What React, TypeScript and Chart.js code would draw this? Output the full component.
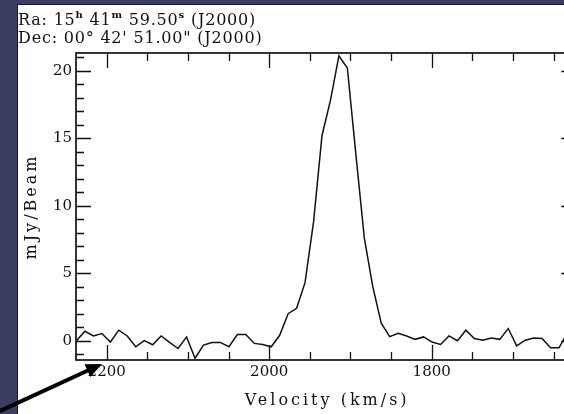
import React, { useEffect, useRef } from 'react';
import { Chart, registerables } from 'chart.js';

Chart.register(...registerables);

// ---- data ----
const velocities = [
  2237.2, 2226.8, 2216.4, 2205.9, 2195.5, 2185.1, 2174.7, 2164.3, 2153.8, 2143.4,
  2133.0, 2122.6, 2112.2, 2101.7, 2091.3, 2080.9, 2070.5, 2060.1, 2049.6, 2039.2,
  2028.8, 2018.4, 2008.0, 1997.5, 1987.1, 1976.7, 1966.3, 1955.9, 1945.4, 1935.0,
  1924.6, 1914.2, 1903.8, 1893.3, 1882.9, 1872.5, 1862.1, 1851.7, 1841.2, 1830.8,
  1820.4, 1810.0, 1799.6, 1789.1, 1778.7, 1768.3, 1757.9, 1747.5, 1737.0, 1726.6,
  1716.2, 1705.8, 1695.4, 1684.9, 1674.5, 1664.1, 1653.7, 1643.3, 1632.8, 1622.4,
];
const flux = [
  0.0, 0.7, 0.35, 0.53, -0.1, 0.78, 0.35, -0.45, 0.0, -0.3,
  0.35, -0.13, -0.58, 0.28, -1.3, -0.33, -0.13, -0.13, -0.45, 0.46,
  0.46, -0.2, -0.28, -0.45, 0.4, 2.0, 2.4, 4.3, 8.8, 15.2,
  17.8, 21.1, 20.2, 13.8, 7.6, 4.0, 1.3, 0.3, 0.55, 0.35,
  0.1, 0.28, -0.1, -0.28, 0.35, 0.0, 0.78, 0.16, 0.04, 0.2,
  0.1, 0.9, -0.38, 0.04, 0.2, 0.16, -0.53, -0.53, 0.6, 0.4,
];
const xTickValues = [2200, 2000, 1800];
const yTickValues = [0, 5, 10, 15, 20];
const xMinorStep = 50;
const yMinorStep = 1;
const xRange = [1622.0, 2237.8];
const yRange = [-1.43, 21.31];
const xTitle = 'Velocity (km/s)';
const yTitle = 'mJy/Beam';
const raRuns = [
  { t: 'Ra: 15' }, { t: 'h', sup: true }, { t: ' 41' }, { t: 'm', sup: true },
  { t: ' 59.50' }, { t: 's', sup: true }, { t: ' (J2000)' },
];
const decRuns = [{ t: 'Dec: 00° 42\' 51.00" (J2000)' }];

const FONT = '"DejaVu Serif", serif';
const BG = '#3c3d62';

const decor = {
  id: 'decor',
  beforeDraw(chart: any) {
    const { ctx, width, height } = chart;
    ctx.save();
    ctx.fillStyle = BG;
    ctx.fillRect(0, 0, width, height);
    ctx.fillStyle = '#ffffff';
    ctx.fillRect(18, 5, width - 18, height - 5);
    ctx.strokeStyle = '#14142a';
    ctx.lineWidth = 1;
    ctx.beginPath();
    ctx.moveTo(17.5, height);
    ctx.lineTo(17.5, 4.5);
    ctx.lineTo(width, 4.5);
    ctx.stroke();
    ctx.restore();
  },
  afterDraw(chart: any) {
    const { ctx, chartArea } = chart;
    const { left, right, top, bottom } = chartArea;
    const xs = chart.scales.x;
    const ys = chart.scales.y;
    ctx.save();
    ctx.strokeStyle = '#111';
    ctx.lineWidth = 1.3;
    ctx.beginPath();
    const x0 = Math.ceil(xs.min / xMinorStep) * xMinorStep;
    for (let v = x0; v <= xs.max; v += xMinorStep) {
      const px = Math.round(xs.getPixelForValue(v)) + 0.5;
      const len = v % 200 === 0 ? 15 : 8;
      ctx.moveTo(px, bottom); ctx.lineTo(px, bottom - len);
      ctx.moveTo(px, top); ctx.lineTo(px, top + len);
    }
    const y0 = Math.ceil(ys.min / yMinorStep) * yMinorStep;
    for (let v = y0; v <= ys.max; v += yMinorStep) {
      const py = Math.round(ys.getPixelForValue(v)) + 0.5;
      const len = v % 5 === 0 ? 15 : 8;
      ctx.moveTo(left, py); ctx.lineTo(left + len, py);
      ctx.moveTo(right, py); ctx.lineTo(right - len, py);
    }
    ctx.stroke();
    ctx.lineWidth = 1.7;
    ctx.strokeRect(left, top, right - left, bottom - top);

    // axis titles
    ctx.fillStyle = '#111';
    ctx.font = `16px ${FONT}`;
    (ctx as any).letterSpacing = '3px';
    ctx.textAlign = 'center';
    ctx.textBaseline = 'middle';
    ctx.fillText(xTitle, (left + right) / 2 + 1, 401);
    ctx.save();
    ctx.translate(32, (top + bottom) / 2);
    ctx.rotate(-Math.PI / 2);
    ctx.fillText(yTitle, 0, 0);
    ctx.restore();

    // header
    (ctx as any).letterSpacing = '0.8px';
    ctx.textAlign = 'left';
    ctx.textBaseline = 'alphabetic';
    const drawRuns = (runs: any[], x: number, y: number) => {
      for (const r of runs) {
        ctx.font = r.sup ? `bold 10px ${FONT}` : `16px ${FONT}`;
        ctx.fillText(r.t, x, r.sup ? y - 7 : y);
        x += ctx.measureText(r.t).width;
      }
    };
    drawRuns(raRuns, 18, 25);
    drawRuns(decRuns, 18, 43);
    (ctx as any).letterSpacing = '0px';

    // arrow
    const ax0 = -2, ay0 = 412, ax1 = 102, ay1 = 364;
    const ang = Math.atan2(ay1 - ay0, ax1 - ax0);
    ctx.strokeStyle = '#000';
    ctx.fillStyle = '#000';
    ctx.lineWidth = 4;
    ctx.beginPath();
    ctx.moveTo(ax0, ay0);
    ctx.lineTo(ax1 - 12 * Math.cos(ang), ay1 - 12 * Math.sin(ang));
    ctx.stroke();
    ctx.beginPath();
    ctx.moveTo(ax1, ay1);
    ctx.lineTo(ax1 - 16 * Math.cos(ang) + 7 * Math.sin(ang), ay1 - 16 * Math.sin(ang) - 7 * Math.cos(ang));
    ctx.lineTo(ax1 - 16 * Math.cos(ang) - 7 * Math.sin(ang), ay1 - 16 * Math.sin(ang) + 7 * Math.cos(ang));
    ctx.closePath();
    ctx.fill();
    ctx.restore();
  },
};

export default function App() {
  const ref = useRef<HTMLCanvasElement>(null);
  useEffect(() => {
    if (!ref.current) return;
    const chart = new Chart(ref.current, {
      type: 'line',
      data: {
        datasets: [
          {
            label: 'Spectrum',
            data: velocities.map((v, i) => ({ x: v, y: flux[i] })),
            borderColor: '#111',
            borderWidth: 1.5,
            pointRadius: 0,
            tension: 0,
            fill: false,
          },
        ],
      },
      options: {
        responsive: false,
        animation: false,
        devicePixelRatio: 1,
        layout: { padding: { left: 18, top: 53, right: 600 - 576.3, bottom: 0 } },
        plugins: { legend: { display: false }, tooltip: { enabled: false }, title: { display: false } },
        scales: {
          x: {
            type: 'linear',
            reverse: true,
            min: xRange[0],
            max: xRange[1],
            grid: { display: false, drawTicks: false },
            border: { display: false },
            afterBuildTicks: (s: any) => { s.ticks = xTickValues.map((v) => ({ value: v })); },
            afterFit: (s: any) => { s.height = 414 - 360; },
            ticks: {
              padding: 3,
              color: '#111',
              font: { family: FONT, size: 15 },
              callback: (v: any) => String(v),
              maxRotation: 0,
            },
          },
          y: {
            type: 'linear',
            min: yRange[0],
            max: yRange[1],
            grid: { display: false, drawTicks: false },
            border: { display: false },
            afterBuildTicks: (s: any) => { s.ticks = yTickValues.map((v) => ({ value: v })); },
            afterFit: (s: any) => { s.width = 76 - 18; },
            ticks: {
              padding: 4,
              color: '#111',
              font: { family: FONT, size: 15 },
              callback: (v: any) => String(v),
            },
          },
        },
      },
      plugins: [decor],
    });
    return () => chart.destroy();
  }, []);
  return (
    <div style={{ position: 'fixed', left: 0, top: 0, width: 564, height: 414, overflow: 'hidden', background: BG }}>
      <canvas ref={ref} width={600} height={414} style={{ display: 'block', width: 600, height: 414 }} />
    </div>
  );
}
